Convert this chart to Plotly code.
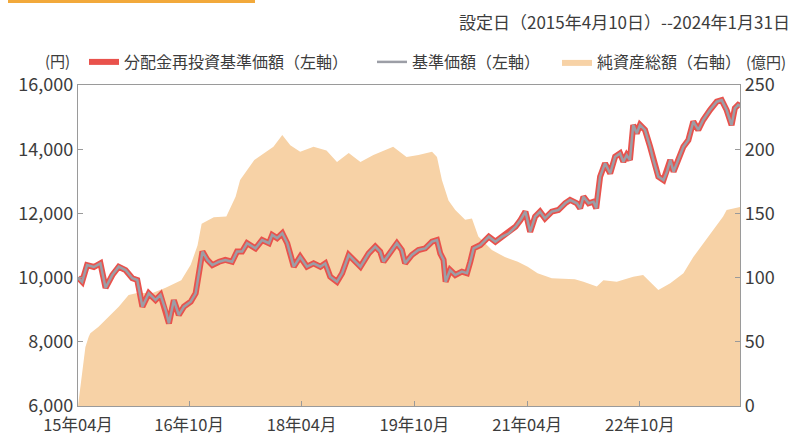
import plotly.graph_objects as go

# ---- data ----
nav_dates = ["2015-04-10","2015-04-30","2015-05-24","2015-06-26","2015-07-28","2015-08-22","2015-09-24","2015-10-25",
 "2015-11-27","2015-12-30","2016-01-23","2016-02-17","2016-03-19","2016-04-21","2016-05-15","2016-06-09","2016-06-25",
 "2016-07-19","2016-08-12","2016-09-06","2016-10-09","2016-11-02","2016-12-05","2016-12-29","2017-01-22","2017-02-24",
 "2017-03-26","2017-04-28","2017-05-22","2017-06-16","2017-07-10","2017-08-20","2017-09-21","2017-10-24","2017-11-09",
 "2017-12-03","2017-12-28","2018-01-21","2018-02-22","2018-03-25","2018-04-27","2018-05-29","2018-07-01","2018-07-25",
 "2018-08-18","2018-09-20","2018-10-15","2018-11-16","2018-12-18","2019-01-12","2019-02-21","2019-03-25","2019-04-18",
 "2019-05-04","2019-05-28","2019-07-08","2019-08-01","2019-08-17","2019-09-19","2019-10-21","2019-11-23","2019-12-26",
 "2020-01-19","2020-02-04","2020-02-20","2020-03-01","2020-03-23","2020-04-17","2020-05-19","2020-06-13","2020-06-29",
 "2020-07-15","2020-08-17","2020-09-27","2020-10-29","2020-12-01","2021-01-02","2021-02-04","2021-02-28","2021-03-24",
 "2021-04-16","2021-05-10","2021-06-03","2021-06-27","2021-07-30","2021-08-31","2021-10-03","2021-10-27","2021-11-29",
 "2021-12-15","2021-12-31","2022-01-25","2022-02-18","2022-03-03","2022-03-22","2022-04-15","2022-05-10","2022-06-03",
 "2022-06-27","2022-07-13","2022-07-29","2022-08-14","2022-08-30","2022-09-16","2022-10-02","2022-10-26","2022-11-20",
 "2022-12-06","2022-12-30","2023-01-24","2023-02-10","2023-02-26","2023-03-14","2023-04-07","2023-05-01","2023-05-25",
 "2023-06-18","2023-07-12","2023-08-05","2023-09-07","2023-10-10","2023-11-03","2023-11-27","2023-12-21","2024-01-06",
 "2024-01-22","2024-01-31"]
nav_values = [10000,9870,10390,10330,10445,9680,10080,10340,
 10235,9980,9925,9095,9510,9300,9460,8990,8575,
 9300,8835,9095,9250,9510,10810,10550,10390,10495,
 10550,10495,10810,10810,11070,10910,11170,11070,11330,
 11230,11380,11070,10340,10650,10340,10445,10340,10445,
 10030,9870,10135,10705,10495,10340,10755,10965,10810,
 10495,10705,11070,10860,10445,10705,10860,10910,11120,
 11170,10755,10550,9870,10235,10080,10185,10135,10495,
 10910,11015,11275,11120,11275,11380,11585,11795,12055,
 11430,11900,12055,11845,12055,12105,12315,12420,12315,
 12160,12520,12315,12365,12160,13145,13560,13250,13765,
 13870,13610,13815,13665,14755,14495,14755,14600,14080,
 13665,13145,13040,13300,13665,13300,13665,14080,14285,
 14860,14600,14910,15220,15480,15530,15220,14750,15275,
 15380,15350]
# no distributions were paid, so the reinvested NAV equals the NAV
reinvest_values = list(nav_values)

aum_dates = ["2015-04-10","2015-04-22","2015-05-16","2015-06-01","2015-06-09","2015-07-19","2015-09-05","2015-10-25",
 "2015-12-12","2016-01-23","2016-04-06","2016-06-09","2016-08-24","2016-10-09","2016-11-11","2016-12-01","2017-01-29",
 "2017-03-31","2017-05-15","2017-06-06","2017-08-14","2017-10-15","2017-11-15","2017-12-28","2018-02-05","2018-03-25",
 "2018-05-29","2018-07-31","2018-09-20","2018-11-16","2019-01-12","2019-03-16","2019-06-20","2019-08-24","2019-10-21",
 "2019-12-26","2020-01-19","2020-02-12","2020-03-15","2020-04-17","2020-06-04","2020-07-07","2020-08-07","2020-10-12",
 "2020-12-14","2021-02-15","2021-04-04","2021-05-22","2021-07-30","2021-11-19","2021-12-31","2022-03-06","2022-04-07",
 "2022-06-11","2022-08-30","2022-10-17","2022-11-20","2022-12-30","2023-02-26","2023-05-01","2023-06-18","2023-08-05",
 "2023-09-23","2023-11-10","2023-11-27","2024-01-14","2024-01-31"]
aum_values = [0,15,46,54,56.6,61.8,69.6,77.3,
 86.4,88,88,92,98,110,125,142,147,
 147.5,163,176,191.6,199,202,211,203,198,
 202,199,190,197,190,195.5,202,194,195.5,
 198,194,176,160,152.6,145,146,132,121.5,
 116,112.4,108.5,103.3,99.5,98.7,96.8,93,98,
 96.8,100.7,102,96.8,90.3,95.6,103.3,116,126.7,
 137,147.5,152.6,154,155]

tick_dates = ["2015-04-10","2016-10-01","2018-04-01","2019-10-01","2021-04-01","2022-10-01"]
tick_labels = ["15年04月","16年10月","18年04月","19年10月","21年04月","22年10月"]
left_ticks = [6000, 8000, 10000, 12000, 14000, 16000]
right_ticks = [0, 50, 100, 150, 200, 250]

FONT = "Noto Sans CJK JP"
TXT = "#3c3c3c"
AX = "#9a9a9a"

L, R, T, B = 78, 57, 85, 32
W, H = 797, 438
pw, ph = W - L - R, H - T - B
def px(x): return (x - L) / pw
def py(y): return (H - B - y) / ph

fig = go.Figure()
# area on the base axis (drawn below), NAV lines on the overlaying axis (drawn above)
fig.add_trace(go.Scatter(x=aum_dates, y=aum_values, name="純資産総額（右軸）", yaxis="y",
                         mode="lines", line=dict(width=0, color="#F7D2A6"), fill="tozeroy",
                         fillcolor="#F7D2A6", legend="legend3"))
fig.add_trace(go.Scatter(x=nav_dates, y=reinvest_values, name="分配金再投資基準価額（左軸）", yaxis="y2",
                         mode="lines", line=dict(width=6, color="#E9524C"), legend="legend"))
fig.add_trace(go.Scatter(x=nav_dates, y=nav_values, name="基準価額（左軸）", yaxis="y2",
                         mode="lines", line=dict(width=2.5, color="#9C9EA6"), legend="legend2"))

def leg(x):
    return dict(orientation="h", x=px(x), y=py(62), xanchor="left", yanchor="middle",
                font=dict(size=16, color=TXT, family=FONT), bgcolor="rgba(0,0,0,0)", itemwidth=30)

fig.update_layout(
    width=W, height=H, margin=dict(l=L, r=R, t=T, b=B, autoexpand=False),
    paper_bgcolor="white", plot_bgcolor="white",
    font=dict(family=FONT, size=16, color=TXT),
    showlegend=True,
    legend=leg(84), legend2=leg(372), legend3=leg(557),
    xaxis=dict(type="date", range=["2015-04-10", "2024-01-31"], tickmode="array",
               tickvals=tick_dates, ticktext=tick_labels, ticks="inside", ticklen=5, tickcolor=AX,
               showline=True, linecolor=AX, linewidth=1.2, mirror=True, showgrid=False, zeroline=False,
               tickfont=dict(size=16.5, color=TXT), ticklabelstandoff=4, automargin=False),
    yaxis=dict(range=[0, 250], side="right", tickmode="array", tickvals=right_ticks,
               ticks="inside", ticklen=5, tickcolor=AX, showline=True, linecolor=AX, linewidth=1.2,
               showgrid=False, zeroline=False, tickfont=dict(size=18, color=TXT), automargin=False),
    yaxis2=dict(range=[6000, 16000], overlaying="y", side="left", tickmode="array", tickvals=left_ticks,
                tickformat=",", ticks="inside", ticklen=5, tickcolor=AX, showline=True, linecolor=AX,
                linewidth=1.2, showgrid=False, zeroline=False, tickfont=dict(size=18, color=TXT),
                automargin=False),
    shapes=[dict(type="rect", xref="paper", yref="paper", x0=px(8), x1=px(255), y0=py(3), y1=py(-2),
                 line=dict(width=0), fillcolor="#F2A93B")],
    annotations=[
        dict(text="設定日（2015年4月10日）--2024年1月31日", xref="paper", yref="paper", x=px(792), y=py(21),
             xanchor="right", yanchor="middle", showarrow=False, font=dict(size=17, color=TXT)),
        dict(text="(円)", xref="paper", yref="paper", x=px(57), y=py(60), xanchor="center",
             yanchor="middle", showarrow=False, font=dict(size=15, color=TXT)),
        dict(text="(億円)", xref="paper", yref="paper", x=px(766), y=py(61), xanchor="center",
             yanchor="middle", showarrow=False, font=dict(size=15, color=TXT)),
    ],
)

fig.write_html("out.html", config={"displayModeBar": False},
               post_script="document.body.style.margin='0';document.body.style.overflow='hidden';")
